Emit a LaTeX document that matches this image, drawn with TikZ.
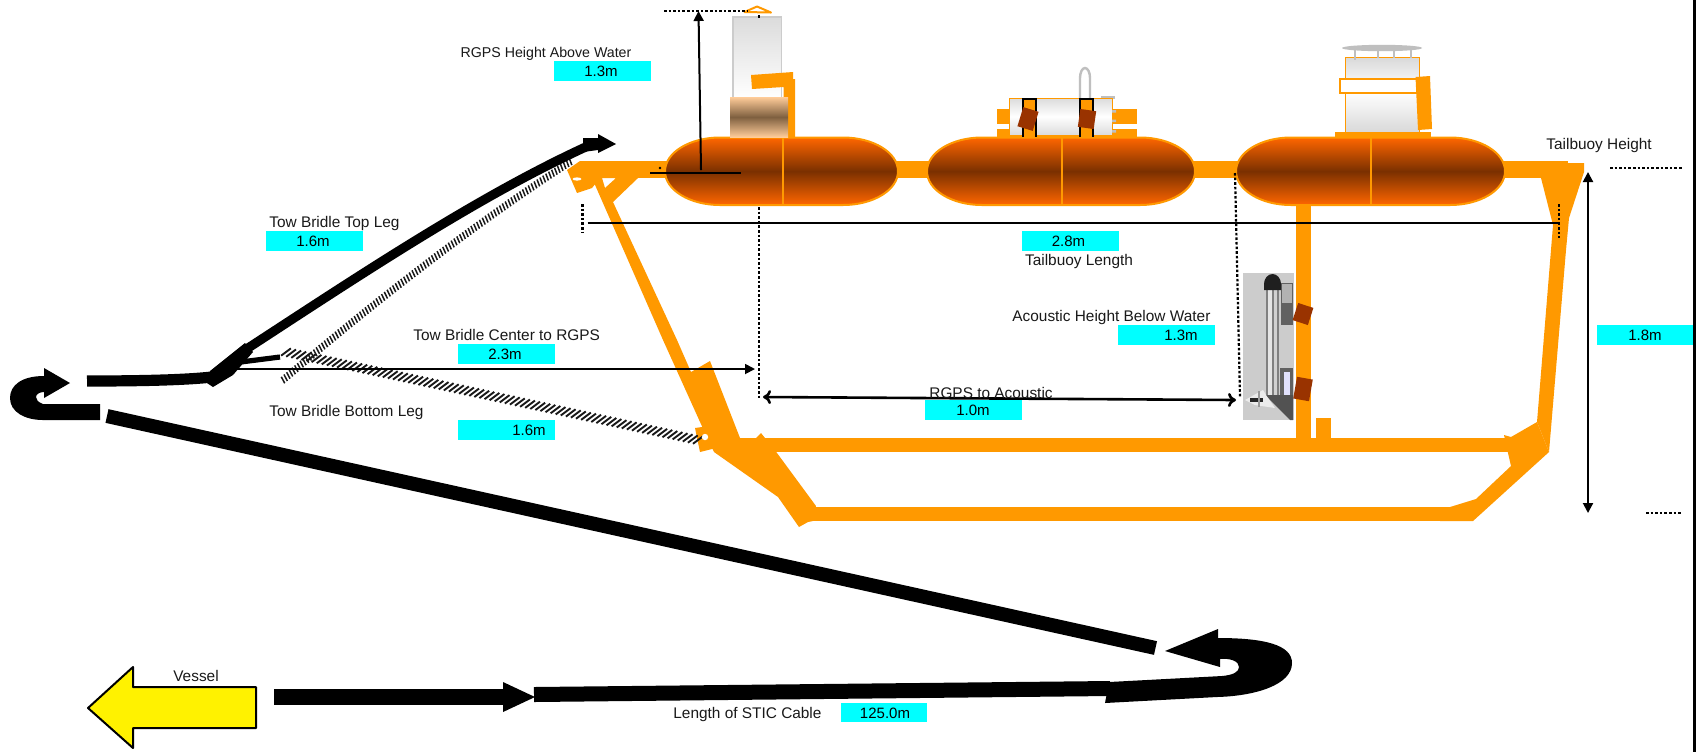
\documentclass[tikz,border=0pt]{standalone}
\usepackage{fontspec}
\setmainfont{Liberation Sans}
\usetikzlibrary{decorations.markings,arrows.meta,calc}
\definecolor{bar}{HTML}{FF9900}
\definecolor{floatA}{HTML}{FF6600}
\definecolor{floatB}{HTML}{7A3000}
\definecolor{lug}{HTML}{993300}
\definecolor{cyan1}{HTML}{00FFFF}
\definecolor{tanA}{HTML}{FFCC99}
\definecolor{tanB}{HTML}{7F6040}
\tikzset{
 barfill/.style={fill=bar,draw=none},
 cablefill/.style={fill=black,draw=none},
 cable/.style={draw=black,line width=7pt},
 lab/.style={font=\fontsize{7.7}{8}\selectfont,text=black!90,inner sep=0pt},
 valbox/.style={fill=cyan1,draw=none},
 valtxt/.style={font=\fontsize{7.5}{8}\selectfont,text=black,inner sep=0pt},
 dots/.style={draw=black,line width=1.1pt,dash pattern=on 1.3pt off 1pt},
 dim/.style={draw=black,line width=0.9pt},
 dimarrow/.style={draw=black,line width=1pt,-{Triangle[length=5pt,width=5pt]}},
 dimboth/.style={draw=black,line width=1pt,{Triangle[length=5pt,width=5pt]}-{Triangle[length=5pt,width=5pt]}},
 openboth/.style={draw=black,line width=1.3pt,{To[length=4pt,width=7pt,line width=1.3pt]}-{To[length=4pt,width=7pt,line width=1.3pt]}},
 floatbody/.style={top color=floatA,bottom color=floatA,middle color=floatB,draw=bar,line width=1pt},
 cyl/.style={top color=black!14,bottom color=black!14,middle color=white},
 rope/.style={postaction={decorate},decoration={markings,mark=between positions 0 and 1 step 1.75pt with {\draw[black!90,line width=0.75pt] (-0.4pt,-1.8pt)--(0.4pt,1.8pt);}}},
 ropeb/.style={postaction={decorate},decoration={markings,mark=between positions 0 and 1 step 2.6pt with {\draw[black!90,line width=0.95pt] (-2pt,-2.3pt)--(2pt,2.3pt);}}},
}
\begin{document}
\begin{tikzpicture}[x=0.5pt,y=-0.5pt]
\useasboundingbox (0,0) rectangle (1696,752);
\fill[white] (0,0) rectangle (1696,752);
\fill[black] (1693,0) rectangle (1696,752);

% ---------- frame: horizontal bars, struts
\path[barfill] (580,161) rectangle (1568,178);
\path[barfill] (1568,163) -- (1584,163) -- (1584,172) -- (1569,218) -- (1566,250) -- (1549,452) -- (1537,422) -- (1553,225) -- (1541,178) -- cycle;
\path[barfill] (1473,521) -- (1549,452) -- (1537,422) -- (1511,437) -- (1504,435) -- (1508,453) -- (1511,466) -- (1476,499) -- (1450,507) -- (1440,507) -- (1440,521) -- cycle;
\path[barfill] (740,438) rectangle (1508,452);
\path[barfill] (808,507) rectangle (1473,521);
% left plate and brace
\path[barfill] (567,170) -- (580,161) -- (600,178) -- (592,188) -- (577,193) -- cycle;
\path[barfill,even odd rule] (592,178) -- (638,178) -- (613,202) -- (677,340) -- (691,372) -- (710,361) -- (740,438) -- (756,438) -- (761,433) -- (777,453) -- (816,506) -- (813,521) -- (808,522) -- (799,527) -- (778,497) -- (714,452) -- (705,433) -- (663,340) -- cycle
  (602,178) -- (616,178) -- (605,188) -- cycle;
\path[barfill] (695,428) -- (702,427) -- (716,430) -- (716,448) -- (700,452) -- cycle;
\fill[white] (705,437) circle[radius=3.2];
\fill[white] (577,179) ellipse[x radius=4.5,y radius=1.6];
% hanger and tab
\path[barfill] (1296,200) rectangle (1311,438);
\path[barfill] (1316,418) rectangle (1331,438);

% ---------- floats
\path[floatbody] (720,137.5) -- (843,137.5) arc[start angle=-90,end angle=90,x radius=55,y radius=33.75] -- (720,205) arc[start angle=90,end angle=270,x radius=55,y radius=33.75] -- cycle;
\draw[bar,line width=1pt] (783,137.5) -- (783,205);
\path[floatbody] (982,137.5) -- (1140,137.5) arc[start angle=-90,end angle=90,x radius=55,y radius=33.75] -- (982,205) arc[start angle=90,end angle=270,x radius=55,y radius=33.75] -- cycle;
\draw[bar,line width=1pt] (1062,137.5) -- (1062,205);
\path[floatbody] (1291,137.5) -- (1450,137.5) arc[start angle=-90,end angle=90,x radius=55,y radius=33.75] -- (1291,205) arc[start angle=90,end angle=270,x radius=55,y radius=33.75] -- cycle;
\draw[bar,line width=1pt] (1371,137.5) -- (1371,205);

% ---------- tower on first float
\shade[top color=black!14,bottom color=white,draw=black!20,line width=0.6pt] (733,17) rectangle (781.5,98);
\path[barfill] (751,75) -- (793,72) -- (793,79) -- (795,79) -- (795,137) -- (783.5,137) -- (783.5,87) -- (752,89) -- cycle;
\shade[top color=tanA,bottom color=tanA,middle color=tanB] (730,97) rectangle (788,137);
\draw[bar,line width=1pt,fill=white,line join=round] (744.5,12) -- (757,6.5) -- (771,12.5) -- cycle;

% ---------- gear on second float
\path[barfill] (997,109) rectangle (1137,124);
\path[barfill] (997,129) rectangle (1137,137);
\draw[black!25,line width=1.2pt] (1080,98) -- (1080,78) arc[start angle=180,end angle=360,x radius=5,y radius=10] -- (1090,98);
\fill[black!25] (1101,96) rectangle (1115,99);
\shade[cyl,draw=bar,line width=0.5pt] (1009,98) rectangle (1112,135);
\fill[black!25] (1112,110) rectangle (1116,112.5) (1112,119.5) rectangle (1116,122) (1112,130) rectangle (1116,132.5);
\path[barfill] (1022,98) rectangle (1036,137);
\path[barfill] (1079,98) rectangle (1093,137);
\draw[black,line width=1pt] (1022.5,137) -- (1022.5,98.5) -- (1035.5,98.5) -- (1035.5,137);
\draw[black,line width=1pt] (1079.5,137) -- (1079.5,98.5) -- (1092.5,98.5) -- (1092.5,137);
\fill[lug,rotate around={-17:(1028,119)}] (1020,109) rectangle (1036,129);
\fill[lug,rotate around={-8:(1087,119)}] (1079,110) rectangle (1095,128);

% ---------- gear on third float
\path[barfill] (1335,132) rectangle (1431,137);
\shade[top color=black!15,bottom color=black!5,draw=bar,line width=0.5pt] (1345,57) rectangle (1419,79);
\shade[top color=white,bottom color=black!15,draw=bar,line width=0.5pt] (1345,92) rectangle (1419,132);
\draw[bar,line width=1pt,fill=white] (1339.5,78.5) rectangle (1418,93);
\path[barfill] (1415.5,77) -- (1430,76) -- (1432,129) -- (1418,130) -- cycle;
\draw[black!25,line width=1pt] (1355,50) -- (1355,60) (1378,50) -- (1378,58) (1394,50) -- (1394,58) (1411,50) -- (1411,58);
\fill[black!25] (1382,48) ellipse[x radius=40,y radius=3.2];

% ---------- acoustic instrument
\fill[black!20] (1243,273) rectangle (1294,420);
\fill[black!62] (1281,283) rectangle (1293,325);
\fill[black!30] (1282,284) rectangle (1292,303);
\fill[black!62] (1280,368) rectangle (1293,398);
\fill[black!12!blue!12] (1284,372) rectangle (1290,396);
\fill[black!50] (1266,290) rectangle (1279,396);
\fill[black!10] (1268,290) rectangle (1272,396);
\fill[black!18] (1274,290) rectangle (1277,396);
\fill[black!88] (1264,290) -- (1264,284) arc[start angle=180,end angle=360,x radius=8.5,y radius=10] -- (1281,290) -- cycle;
\fill[black!68] (1265,395) -- (1293,395) -- (1293,420) -- (1290,420) -- cycle;
\fill[black!8] (1245,400) -- (1263,390) -- (1266,395) -- (1275,408) -- (1255,405) -- cycle;
\fill[black!85] (1250,398) rectangle (1263,402);
\fill[black!40] (1258,391) rectangle (1260,407);
% lugs on hanger
\fill[lug,rotate around={-18:(1303,314)}] (1295,305) rectangle (1311,323);
\fill[lug,rotate around={-10:(1303,389)}] (1295,378) rectangle (1311,400);

% ---------- ropes
\coordinate (ropeAs) at (283,380);
\coordinate (ropeAe) at (573,160);
\coordinate (ropeBs) at (286,352);
\coordinate (ropeBe) at (702,441);
\path[rope] (ropeAs) .. controls (380,297) and (480,220) .. (ropeAe);
\path[ropeb] (ropeBs) -- (ropeBe);
\fill[white] (703,437) circle[radius=1.5];

% ---------- dimension lines
\coordinate (dTL) at (664,11); \coordinate (dTR) at (747,11);
\draw[dots] (dTL) -- (dTR);
\draw[dots] (759,15) -- (759,18);
\coordinate (hB) at (701,170); \coordinate (hT) at (698.5,11);
\draw[dimarrow] (hB) -- (hT);
\draw[dim] (650,173) -- (741,173);
\fill[black] (660,168) circle[radius=1.3];
\draw[dim] (587.5,223) -- (1559,223);
\draw[dots] (582.5,204) -- (582.5,233);
\draw[dots] (1559,204) -- (1559,238);
\draw[dots] (759,207) -- (759,400);
\draw[dots] (1235,173) -- (1240,397);
\coordinate (ctrA) at (235,369); \coordinate (ctrB) at (755,369);
\draw[dimarrow,line width=0.9pt] (ctrA) -- (ctrB);
\coordinate (acA) at (763,397); \coordinate (acB) at (1236,400);
\draw[openboth] (acA) -- (acB);
\coordinate (thA) at (1588,172); \coordinate (thB) at (1588,513);
\draw[dimboth] (thA) -- (thB);
\draw[dots] (1610,168) -- (1682,168);
\draw[dots] (1646,513) -- (1682,513);

% ---------- black cables
\coordinate (cab1a) at (87,381); \coordinate (cab1b) at (212,377);
\draw[line width=5.6pt] (cab1a) .. controls (140,381) and (185,380) .. (cab1b);
\path[cablefill] (207,383) -- (213,387) -- (233,375) -- (253,352) -- (245,343) -- (210,371) -- cycle;
\draw[line width=2.6pt] (225,364) -- (280,357);
\draw[line width=4.6pt] (245,350) .. controls (360,275) and (480,195) .. (590,145);
\path[cablefill] (583,138) -- (598,138) -- (598,134) -- (616,144) -- (598,153) -- (598,150) -- (583,152) -- cycle;
% left U-turn
\path[cablefill] (100,404) -- (43,404) .. controls (38,402) and (36,400) .. (36,397) .. controls (36,394) and (40,392) .. (44,392) -- (44,398) -- (70,383) -- (44,368) -- (44,376)
  .. controls (22,376) and (10,385) .. (10,398) .. controls (10,412) and (25,420) .. (43,420) -- (100,420) -- cycle;
% long cable
\coordinate (longA) at (107,416); \coordinate (longB) at (1155.5,648);
\draw[cable] (longA) -- (longB);
% right U-turn
\path[cablefill] (1165,651) -- (1218,629) -- (1218,638) .. controls (1265,638) and (1292,645) .. (1292,663)
  .. controls (1292,685) and (1255,696) .. (1217,697) -- (1105,703) -- (1109,682) -- (1222,676) .. controls (1233,675) and (1239,672) .. (1239,667) .. controls (1239,661) and (1230,658) .. (1220,659) -- (1220,667) -- cycle;
% bottom cable
\coordinate (botA) at (534,694.5); \coordinate (botB) at (1110,688.5);
\draw[line width=7.5pt] (botA) -- (botB);
\coordinate (botC) at (274,697); \coordinate (botD) at (505,697);
\draw[line width=8pt] (botC) -- (botD);
\path[cablefill] (503,682) -- (535,697) -- (503,712) -- cycle;
% vessel arrow
\draw[black,fill=yellow,line width=1pt,line join=round] (88,708) -- (133,667) -- (133,687) -- (256,687) -- (256,728) -- (133,728) -- (133,748) -- cycle;

% ---------- value boxes
\path[valbox] (554,60.5) rectangle (651,81);
\path[valbox] (266,231) rectangle (363,251);
\path[valbox] (458,344) rectangle (555,364);
\path[valbox] (458,420) rectangle (555,440);
\path[valbox] (925,400) rectangle (1022,420);
\path[valbox] (1118,325) rectangle (1215,345);
\path[valbox] (1022,231) rectangle (1119,251);
\path[valbox] (1597,325) rectangle (1693,345);
\path[valbox] (841,703) rectangle (927,722);

% ---------- text
\node[valtxt] (v1) at (601,71) {1.3m};
\node[valtxt] (v2) at (313,241) {1.6m};
\node[valtxt] (v3) at (505,354) {2.3m};
\node[valtxt] (v4) at (529,430) {1.6m};
\node[valtxt] (v5) at (973,410) {1.0m};
\node[valtxt] (v6) at (1181,335) {1.3m};
\node[valtxt] (v7) at (1068.5,241) {2.8m};
\node[valtxt] (v8) at (1645,335) {1.8m};
\node[valtxt] (v9) at (885,713) {125.0m};
\node[lab,font=\fontsize{7.1}{8}\selectfont] (l1) at (546,54) {RGPS Height Above Water};
\node[lab,anchor=west] (l2) at (269,224) {Tow Bridle Top Leg};
\node[lab,anchor=west] (l3) at (413,335) {Tow Bridle Center to RGPS};
\node[lab,anchor=west] (l4) at (269,413) {Tow Bridle Bottom Leg};
\node[lab] (l5) at (991,393) {RGPS to Acoustic};
\node[lab,anchor=west] (l6) at (1012,318) {Acoustic Height Below Water};
\node[lab] (l7) at (1079,262) {Tailbuoy Length};
\node[lab,anchor=west] (l8) at (1546,146) {Tailbuoy Height};
\node[lab] (l9) at (196,676) {Vessel};
\node[lab,anchor=west] (l10) at (673,714) {Length of STIC Cable};
\end{tikzpicture}
\end{document}
